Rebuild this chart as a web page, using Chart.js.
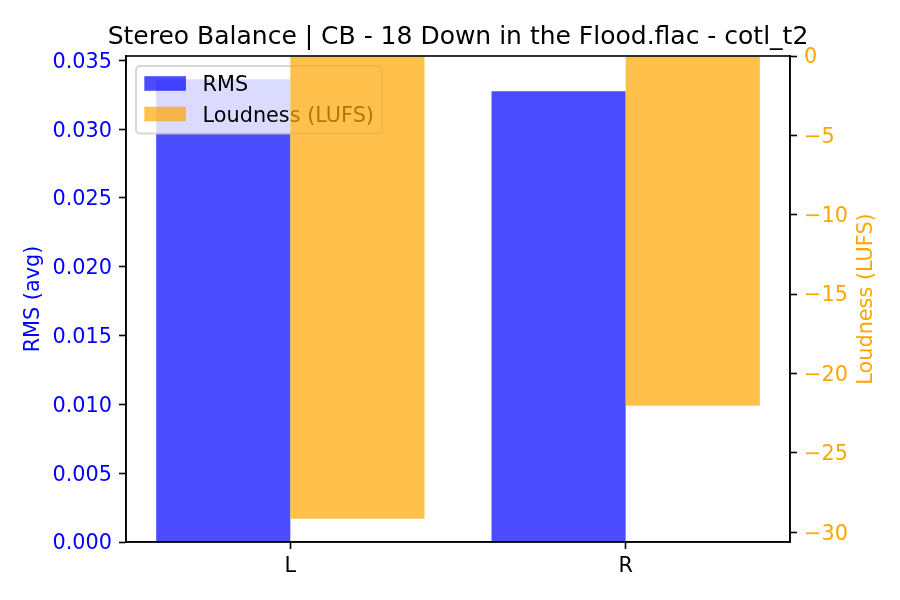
<!DOCTYPE html>
<html><head><meta charset="utf-8">
<script src="https://cdn.jsdelivr.net/npm/chart.js@4.4.1/dist/chart.umd.min.js"></script>
<style>html,body{margin:0;padding:0;background:#fff}#wrap{width:900px;height:600px;position:relative}</style>
</head><body><div id="wrap"><canvas id="c" width="900" height="600"></canvas></div>
<script>
const titleText = 'Stereo Balance | CB - 18 Down in the Flood.flac - cotl_t2';
const categories = ['L', 'R'];
const rmsValues = [0.03363, 0.03275];
const lufsValues = [-29.16, -22.03];
const seriesNames = ['RMS', 'Loudness (LUFS)'];
const axisTitles = ['RMS (avg)', 'Loudness (LUFS)'];

const FONT = "'DejaVu Sans', sans-serif";
const BLUE = 'rgba(0,0,255,0.7)';
const ORANGE = 'rgba(255,165,0,0.7)';
const n = categories.length;
const span = (n - 1) + 0.8;
const xMin = -0.4 - 0.05 * span, xMax = (n - 1) + 0.4 + 0.05 * span;
const rmsMax = Math.max(...rmsValues) * 1.05;
const lufsMin = Math.min(...lufsValues) * 1.05;
const fs = 20.8;

function drawLegend(chart) {
  const ctx = chart.ctx, a = chart.chartArea;
  ctx.save();
  ctx.font = fs + 'px ' + FONT;
  const pad = 0.4 * fs, hl = 2 * fs, htp = 0.8 * fs;
  let tw = 0;
  seriesNames.forEach(s => { tw = Math.max(tw, ctx.measureText(s).width); });
  const x0 = a.left + 10, y0 = a.top + 10;
  const w = pad + hl + htp + tw + pad;
  const rowH = 30.5;
  const h = 67.5;
  const r = 4;
  ctx.beginPath();
  ctx.moveTo(x0 + r, y0);
  ctx.arcTo(x0 + w, y0, x0 + w, y0 + h, r);
  ctx.arcTo(x0 + w, y0 + h, x0, y0 + h, r);
  ctx.arcTo(x0, y0 + h, x0, y0, r);
  ctx.arcTo(x0, y0, x0 + w, y0, r);
  ctx.closePath();
  ctx.fillStyle = 'rgba(255,255,255,0.8)';
  ctx.fill();
  ctx.lineWidth = 2;
  ctx.strokeStyle = 'rgba(204,204,204,0.8)';
  ctx.stroke();
  const colors = [BLUE, ORANGE];
  seriesNames.forEach((s, i) => {
    const cy = y0 + 17.5 + i * rowH;
    ctx.fillStyle = colors[i];
    ctx.fillRect(x0 + pad, cy - 7.3, hl, 14.6);
    ctx.fillStyle = '#000';
    ctx.textBaseline = 'alphabetic';
    ctx.textAlign = 'left';
    ctx.fillText(s, x0 + pad + hl + htp, cy + 7.5);
  });
  ctx.restore();
}

const mplPlugin = {
  id: 'mpl',
  beforeDatasetDraw(chart, args) {
    if (args.index === 1 && !chart.$late) return false;
  },
  afterDatasetsDraw(chart) {
    const ctx = chart.ctx, a = chart.chartArea;
    drawLegend(chart);
    chart.$late = true;
    ctx.save();
    ctx.beginPath();
    ctx.rect(a.left, a.top, a.right - a.left, a.bottom - a.top);
    ctx.clip();
    chart.getDatasetMeta(1).controller.draw();
    ctx.restore();
    chart.$late = false;
    ctx.save();
    ctx.strokeStyle = '#000';
    ctx.lineWidth = 1.6;
    ctx.strokeRect(a.left, a.top, a.right - a.left, a.bottom - a.top);
    ctx.restore();
  },
  afterDraw(chart) {
    const ctx = chart.ctx, a = chart.chartArea;
    ctx.save();
    ctx.fillStyle = '#000';
    ctx.font = '25px ' + FONT;
    ctx.textAlign = 'center';
    ctx.textBaseline = 'alphabetic';
    ctx.fillText(titleText, (a.left + a.right) / 2, a.top - 12.5);
    const cy = (a.top + a.bottom) / 2;
    ctx.font = fs + 'px ' + FONT;
    ctx.translate(38.5, cy);
    ctx.rotate(-Math.PI / 2);
    ctx.fillStyle = 'blue';
    ctx.fillText(axisTitles[0], 0, 0);
    ctx.restore();
    ctx.save();
    ctx.font = fs + 'px ' + FONT;
    ctx.textAlign = 'center';
    ctx.textBaseline = 'alphabetic';
    ctx.translate(871.5, cy);
    ctx.rotate(-Math.PI / 2);
    ctx.fillStyle = '#ffa500';
    ctx.fillText(axisTitles[1], 0, 0);
    ctx.restore();
  }
};

const tickFont = { family: FONT, size: fs };
const gridCommon = { drawOnChartArea: false, drawTicks: true, tickLength: 7, tickColor: '#000', tickWidth: 1.6, offset: false };

new Chart(document.getElementById('c'), {
  type: 'bar',
  data: {
    datasets: [
      { label: seriesNames[0], data: rmsValues.map((v, i) => ({ x: i, y: v })), backgroundColor: BLUE, yAxisID: 'y', borderWidth: 0 },
      { label: seriesNames[1], data: lufsValues.map((v, i) => ({ x: i, y: v })), backgroundColor: ORANGE, yAxisID: 'y2', borderWidth: 0 }
    ]
  },
  options: {
    responsive: false,
    devicePixelRatio: 1,
    animation: false,
    layout: { padding: { top: 56, left: 0, right: 0, bottom: 0 } },
    datasets: { bar: { categoryPercentage: 0.8, barPercentage: 1.0 } },
    plugins: { legend: { display: false }, tooltip: { enabled: false }, title: { display: false } },
    scales: {
      x: {
        type: 'linear', min: xMin, max: xMax, offset: false,
        grid: gridCommon,
        border: { display: true, color: '#000', width: 1.6 },
        ticks: { autoSkip: false, maxRotation: 0, color: '#000', font: tickFont, padding: 5,
          callback: (v) => (categories[v] !== undefined ? categories[v] : '') },
        afterBuildTicks: (s) => { s.ticks = categories.map((c, i) => ({ value: i })); },
        afterFit: (s) => { s.height = 58; }
      },
      y: {
        type: 'linear', position: 'left', min: 0, max: rmsMax,
        grid: gridCommon,
        border: { display: true, color: '#000', width: 1.6 },
        ticks: { stepSize: 0.005, includeBounds: false, color: 'blue', font: tickFont, padding: 7, labelOffset: 2,
          callback: (v) => v.toFixed(3) },
        afterFit: (s) => { s.width = 126; }
      },
      y2: {
        type: 'linear', position: 'right', min: lufsMin, max: 0,
        grid: gridCommon,
        border: { display: true, color: '#000', width: 1.6 },
        ticks: { stepSize: 5, includeBounds: false, color: '#ffa500', font: tickFont, padding: 7, labelOffset: 2,
          callback: (v) => (v < 0 ? '\u2212' + Math.abs(v) : String(v)) },
        afterFit: (s) => { s.width = 110; }
      }
    }
  },
  plugins: [mplPlugin]
});
</script>
</body></html>
